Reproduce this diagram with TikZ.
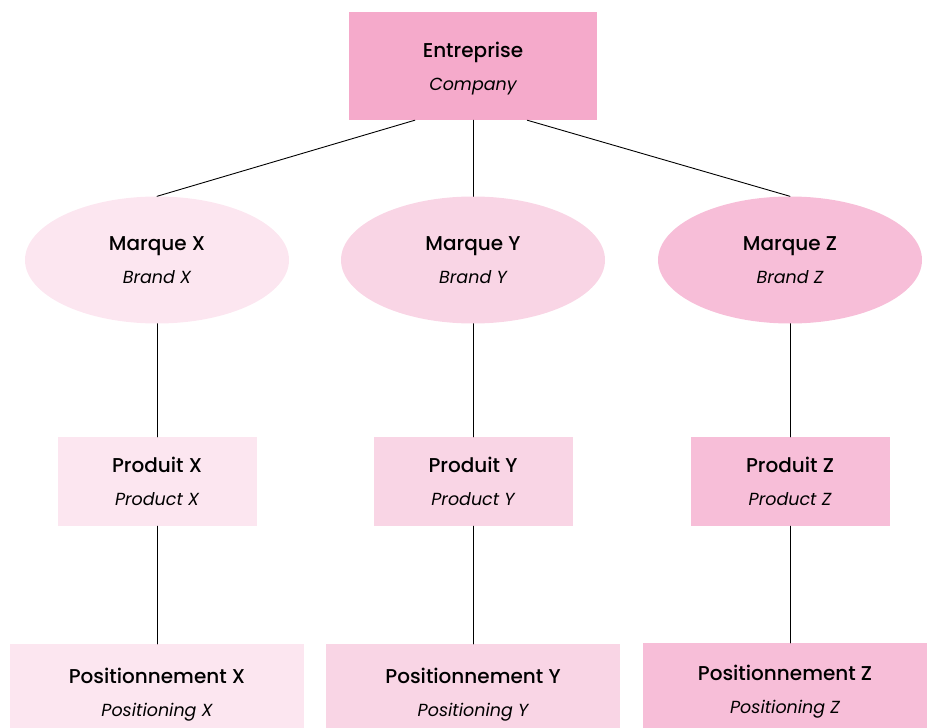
\documentclass[tikz,border=0pt]{standalone}
\usepackage{fontspec}
\setmainfont{Poppins}[BoldFont={Poppins Medium}]
\usetikzlibrary{shapes.geometric}
\definecolor{orgTop}{RGB}{245, 170, 203}
\definecolor{orgX}{RGB}{252, 230, 240}
\definecolor{orgY}{RGB}{249, 213, 229}
\definecolor{orgZ}{RGB}{247, 190, 216}
\newcommand{\orglabel}[2]{{\bfseries #1}\\{\itshape\fontsize{17.5}{33}\selectfont #2}}

\begin{document}
\begin{tikzpicture}[x=1pt, y=-1pt, line cap=round, line join=round,
    box/.style={rectangle, inner sep=0pt, align=center, text=black, text depth=0pt, font=\fontsize{20}{33}\selectfont},
    oval/.style={box, ellipse, minimum width=264pt, minimum height=127pt},
    prod/.style={box, minimum width=199pt, minimum height=89pt},
    posi/.style={box, minimum width=294pt, minimum height=96pt},
    link/.style={black, line width=0.9pt}]
        \useasboundingbox (0,0) rectangle (927,728);
        \clip (0,0) rectangle (927,728);
        % company
        \node[box, fill=orgTop, minimum width=248pt, minimum height=108pt] (top) at (473,66) {\orglabel{Entreprise}{Company}};
        % brands
        \node[oval, fill=orgX] (brandX) at (157,260) {\orglabel{Marque X}{Brand X}};
        \node[oval, fill=orgY] (brandY) at (473,260) {\orglabel{Marque Y}{Brand Y}};
        \node[oval, fill=orgZ] (brandZ) at (790,260) {\orglabel{Marque Z}{Brand Z}};
        % products
        \node[prod, fill=orgX] (prodX) at (157,481.5) {\orglabel{Produit X}{Product X}};
        \node[prod, fill=orgY] (prodY) at (473,481.5) {\orglabel{Produit Y}{Product Y}};
        \node[prod, fill=orgZ] (prodZ) at (790,481.5) {\orglabel{Produit Z}{Product Z}};
        % positioning
        \node[posi, fill=orgX] (posX) at (157,692) {\orglabel{Positionnement X}{Positioning X}};
        \node[posi, fill=orgY] (posY) at (473,692) {\orglabel{Positionnement Y}{Positioning Y}};
        \node[posi, fill=orgZ, minimum width=284pt, minimum height=92pt] (posZ) at (785,689) {\orglabel{Positionnement Z}{Positioning Z}};
        % links
        \draw[link] (top.223) -- (brandX.north);
        \draw[link] (top.south) -- (brandY.north);
        \draw[link] (top.-45) -- (brandZ.north);
        \draw[link] (brandX.south) -- (prodX.north);
        \draw[link] (brandY.south) -- (prodY.north);
        \draw[link] (brandZ.south) -- (prodZ.north);
        \draw[link] (prodX.south) -- (posX.north);
        \draw[link] (prodY.south) -- (posY.north);
        \draw[link] (prodZ.south) -- (posZ.north -| prodZ.south);
    \end{tikzpicture}
\end{document}
